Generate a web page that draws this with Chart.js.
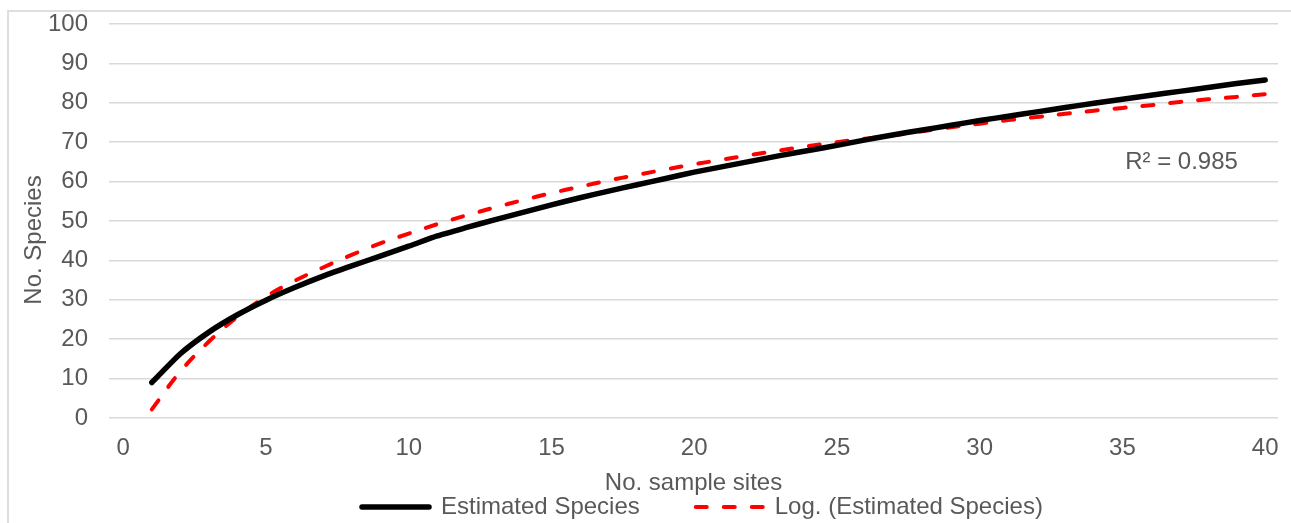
<!DOCTYPE html>
<html>
<head>
<meta charset="utf-8">
<title>Estimated Species</title>
<script src="https://cdn.jsdelivr.net/npm/chart.js@4.4.1/dist/chart.umd.min.js"></script>
<style>
    html, body { margin: 0; padding: 0; background: #fff; overflow: hidden; }
    .frame {
        position: absolute; left: 7px; top: 10px;
        width: 1400px; height: 700px;
        border: 2px solid #dedede;
    }
    #chart { position: absolute; left: 0; top: 0; }
</style>
</head>
<body>
<div class="frame"></div>
<canvas id="chart" width="1291" height="588"></canvas>
<script>
// number of sample sites (x)
const sites = [1, 2, 3, 4, 5, 6, 7, 8, 9, 10, 11, 12, 13, 14, 15, 16, 17, 18, 19, 20,
    21, 22, 23, 24, 25, 26, 27, 28, 29, 30, 31, 32, 33, 34, 35, 36, 37, 38, 39, 40];

// estimated species
const estimated = [9.0, 16.3, 21.8, 26.2, 29.9, 33.1, 36.0, 38.6, 41.1, 43.6,
    46.2, 48.3, 50.3, 52.2, 54.1, 55.9, 57.6, 59.2, 60.8, 62.4,
    63.8, 65.2, 66.6, 67.9, 69.2, 70.6, 71.9, 73.1, 74.3, 75.5,
    76.6, 77.7, 78.8, 79.9, 80.9, 81.9, 82.9, 83.9, 84.9, 85.8];

// log trendline
const logTrend = [2.2, 11.8, 19.4, 25.7, 30.8, 34.8, 38.2, 41.4, 44.3, 46.8,
    49.2, 51.4, 53.4, 55.3, 57.1, 58.7, 60.3, 61.7, 63.1, 64.4,
    65.6, 66.8, 67.9, 69.0, 70.0, 70.9, 71.8, 72.8, 73.8, 74.7,
    75.6, 76.4, 77.2, 78.0, 78.7, 79.4, 80.2, 80.9, 81.5, 82.2];

const xTicks = [0, 5, 10, 15, 20, 25, 30, 35, 40];
const yTitle = "No. Species";
const r2Text = "R\u00b2 = 0.985";
const r2At = [37.07, 65];

const textColor = "#595959";
const font = { family: "'Liberation Sans', Arial, sans-serif", size: 24 };

// Excel puts the legend a bit right of centre, just under the axis title
const legendNudge = {
    id: "legendNudge",
    afterLayout(chart) {
        const lg = chart.legend;
        const pad = lg.options.labels.padding;
        const h = lg.bottom - lg.top;
        lg.top = 439;
        lg.bottom = lg.top + h;
        const startX = (lg.left + pad + lg.right - lg.lineWidths[0]) / 2;
        const dx = 362 - startX;
        lg.left += dx;
        lg.right += dx;
    }
};

// y title (sits a little below the plot middle in the source) and the R² label
const extraText = {
    id: "extraText",
    afterDatasetsDraw(chart) {
        const { ctx, scales: { x, y } } = chart;
        ctx.save();
        ctx.font = font.size + "px " + font.family;
        ctx.fillStyle = textColor;
        ctx.textAlign = "center";
        ctx.textBaseline = "middle";
        ctx.fillText(r2Text, x.getPixelForValue(r2At[0]), y.getPixelForValue(r2At[1]));
        ctx.translate(34, 240);
        ctx.rotate(-Math.PI / 2);
        ctx.fillText(yTitle, 0, 0);
        ctx.restore();
    }
};

// legend samples keep the dash and round ends of the lines
const legendLabels = (chart) =>
    Chart.defaults.plugins.legend.labels.generateLabels(chart).map((item, i) => ({
        ...item,
        lineDash: chart.data.datasets[i].borderDash || [],
        lineCap: "round",
    }));

new Chart(document.getElementById("chart"), {
    type: "line",
    data: {
        datasets: [
            {
                label: "Estimated Species",
                data: sites.map((s, i) => ({ x: s, y: estimated[i] })),
                borderColor: "#000000",
                borderWidth: 5.5,
                borderCapStyle: "round",
                borderJoinStyle: "round",
                pointRadius: 0,
                tension: 0.2,
            },
            {
                label: "Log. (Estimated Species)",
                data: sites.map((s, i) => ({ x: s, y: logTrend[i] })),
                borderColor: "#ff0000",
                borderWidth: 4,
                borderDash: [11, 17],
                borderCapStyle: "round",
                pointRadius: 0,
                tension: 0.4,
            },
        ],
    },
    options: {
        responsive: false,
        animation: false,
        layout: { padding: { top: 24, right: 13, bottom: 0.6, left: 0 } },
        scales: {
            x: {
                type: "linear",
                min: -0.5,
                max: 40.45,
                grid: { display: false, drawTicks: false },
                border: { display: false },
                afterBuildTicks: (s) => { s.ticks = xTicks.map(v => ({ value: v })); },
                ticks: { padding: 15.5, color: textColor, font },
                title: { display: true, text: "No. sample sites", color: textColor, font, padding: { top: 0, bottom: 0 } },
                afterFit: (s) => { s.height = 79.4; s.paddingLeft = 0; s.paddingRight = 0; },
            },
            y: {
                min: 0,
                max: 100,
                ticks: { stepSize: 10, padding: 21, color: textColor, font },
                grid: { color: "#d9d9d9", lineWidth: 1.5, drawTicks: false },
                border: { display: false },
                afterFit: (s) => { s.width = 109; s.paddingTop = 0; s.paddingBottom = 0; },
            },
        },
        plugins: {
            legend: {
                position: "bottom",
                labels: {
                    usePointStyle: true,
                    pointStyle: "line",
                    pointStyleWidth: 67,
                    padding: 56,
                    color: textColor,
                    font,
                    generateLabels: legendLabels,
                },
            },
            tooltip: { enabled: false },
        },
    },
    plugins: [legendNudge, extraText],
});
</script>
</body>
</html>
